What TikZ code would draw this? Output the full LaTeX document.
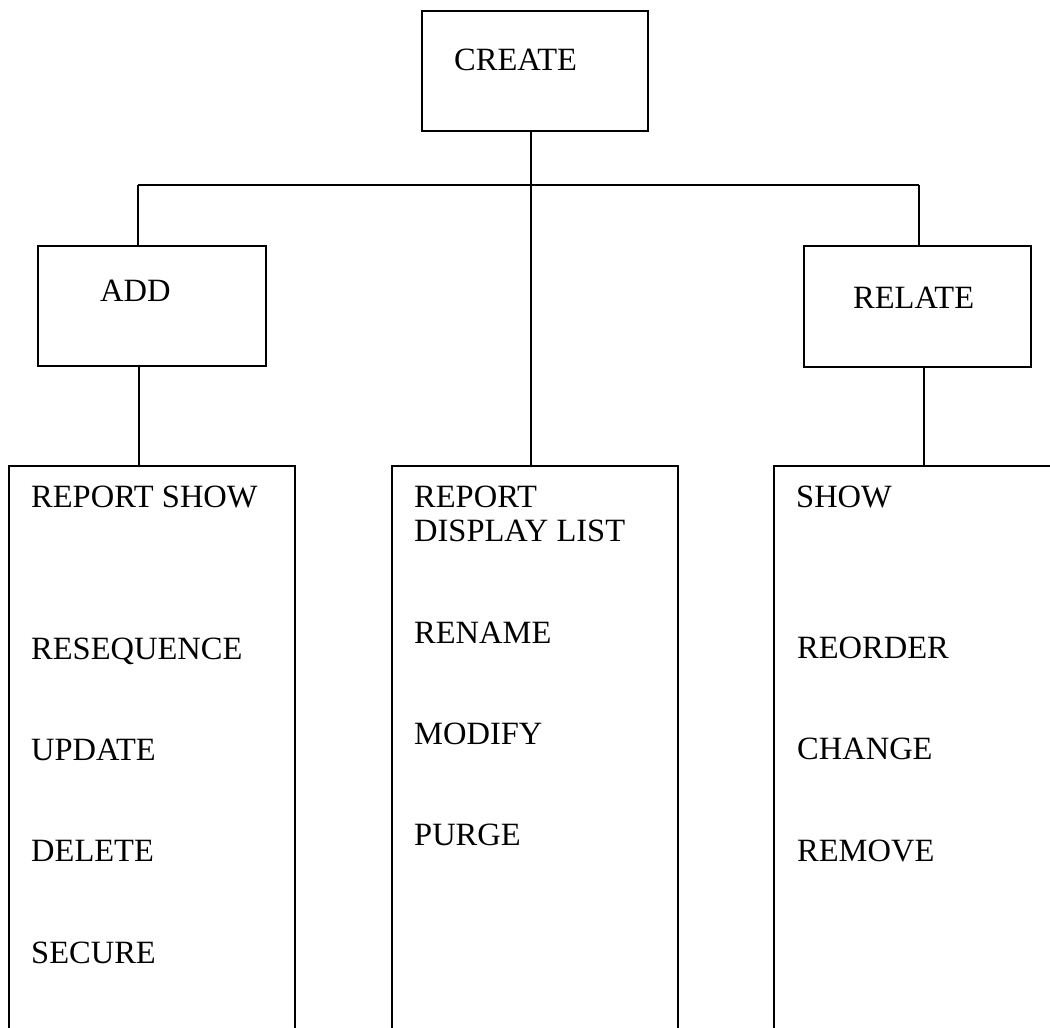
\documentclass[tikz,border=0pt]{standalone}
\usepackage{fontspec}
\setmainfont{Liberation Serif}
\begin{document}
\begin{tikzpicture}[x=1pt,y=-1pt,
  box/.style={draw, line width=1.5pt, rectangle, inner sep=0pt, anchor=north west},
  wire/.style={line width=1.5pt},
  lbl/.style={anchor=base west, inner sep=0pt, font=\fontsize{32.5}{34}\selectfont}]
  \clip (0,0) rectangle (1050,1028);
  \fill[white] (0,0) rectangle (1050,1028);

  % top-level and second-level boxes
  \node[box, minimum width=226pt, minimum height=120pt] (create) at (421,10) {};
  \node[box, minimum width=228pt, minimum height=120pt] (add) at (37,245) {};
  \node[box, minimum width=227pt, minimum height=121pt] (relate) at (803,245) {};

  % bottom boxes (run past the lower edge)
  \node[box, minimum width=286pt, minimum height=600pt] (leftcol) at (8,465) {};
  \node[box, minimum width=286pt, minimum height=600pt] (midcol) at (391,465) {};
  \node[box, minimum width=300pt, minimum height=600pt] (rightcol) at (773,465) {};

  % box titles
  \node[lbl] (tcreate) at (454,70) {CREATE};
  \node[lbl] (tadd) at (100,301) {ADD};
  \node[lbl] (trelate) at (853,308) {RELATE};

  % left column entries
  \node[lbl] (l1) at (31,507) {REPORT SHOW};
  \node[lbl] (l2) at (31,659) {RESEQUENCE};
  \node[lbl] (l3) at (31,760) {UPDATE};
  \node[lbl] (l4) at (31,861) {DELETE};
  \node[lbl] (l5) at (31,963) {SECURE};

  % middle column entries
  \node[lbl] (m1) at (414,507) {REPORT};
  \node[lbl] (m2) at (414,541) {DISPLAY LIST};
  \node[lbl] (m3) at (414,643) {RENAME};
  \node[lbl] (m4) at (414,744) {MODIFY};
  \node[lbl] (m5) at (414,845) {PURGE};

  % right column entries
  \node[lbl] (r1) at (796,507) {SHOW};
  \node[lbl] (r2) at (797,658) {REORDER};
  \node[lbl] (r3) at (797,759) {CHANGE};
  \node[lbl] (r4) at (797,861) {REMOVE};

  % connector junctions
  \coordinate (trunk) at (531,130);
  \coordinate (busL) at (138,185);
  \coordinate (busR) at (919,185);
  \coordinate (addout) at (139,365);
  \coordinate (relout) at (924,366);

  \draw[wire] (trunk) -- (trunk |- midcol.north);
  \draw[wire] (busL) -- (busR);
  \draw[wire] (busL) -- (busL |- add.north);
  \draw[wire] (busR) -- (busR |- relate.north);
  \draw[wire] (addout) -- (addout |- leftcol.north);
  \draw[wire] (relout) -- (relout |- rightcol.north);
\end{tikzpicture}
\end{document}
